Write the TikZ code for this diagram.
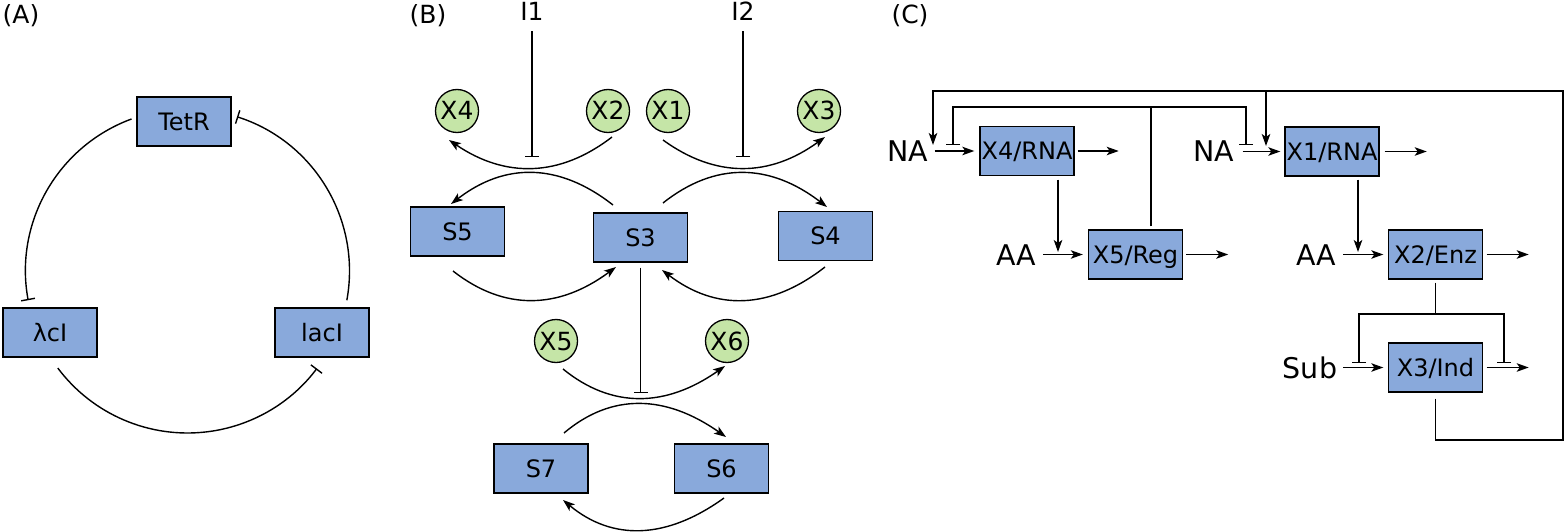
\documentclass[tikz,border=0pt]{standalone}
\usepackage{fontspec}
\setmainfont{DejaVu Sans}
\usetikzlibrary{arrows.meta,calc}
\definecolor{boxblue}{RGB}{137,169,219}
\definecolor{spgreen}{RGB}{197,229,167}
\begin{document}
\begin{tikzpicture}[x=1pt,y=-1pt,
  box/.style={draw=black, fill=boxblue, line width=1.4pt, minimum width=94pt, minimum height=49pt, inner sep=0pt, text height=17.5pt, text depth=0pt, font=\fontsize{24}{28}\selectfont},
  spec/.style={circle, draw=black, fill=spgreen, line width=1.3pt, minimum size=43pt, inner sep=0pt, text height=18pt, text depth=0pt, font=\fontsize{25}{28}\selectfont},
  lbl/.style={inner sep=0pt, text height=18pt, text depth=0pt, font=\fontsize{25}{30}\selectfont},
  big/.style={inner sep=0pt, text height=20.8pt, text depth=0pt, font=\fontsize{28.5}{32}\selectfont},
  conn/.style={line width=1.4pt},
  act/.style={conn, -{Stealth[length=12pt,width=8.5pt,inset=3pt]}},
  inh/.style={conn, -{Bar[width=14pt,line width=1.4pt]}},
]
\useasboundingbox (0,0) rectangle (1565,532);

% ---------------- Panel A ----------------
\node[lbl] (labA) at (21,15) {(A)};
\node[box] (TetR) at (184,121.5) {TetR};
\node[box] (lcI) at (50,332.5) {λcI};
\node[box] (lacI) at (322,332.5) {lacI};
\coordinate (cA) at (187.5,271);
\draw[inh] ([shift={(249.8:162)}]cA) arc[start angle=249.8, end angle=169.6, radius=162];
\draw[inh] ([shift={(10.4:162)}]cA) arc[start angle=10.4, end angle=-72.2, radius=162];
\draw[inh] ([shift={(143.2:162)}]cA) arc[start angle=143.2, end angle=37, radius=162];

% ---------------- Panel B ----------------
\node[lbl] (labB) at (428,15) {(B)};
\node[lbl] (I1) at (532,12) {I1};
\node[lbl] (I2) at (743,12) {I2};
\node[spec] (X4) at (457,111) {X4};
\node[spec] (X2) at (608,111) {X2};
\node[spec] (X1) at (668,111) {X1};
\node[spec] (X3) at (819,111) {X3};
\node[box] (S5) at (457.5,231.5) {S5};
\node[box] (S3) at (640.5,237.5) {S3};
\node[box] (S4) at (825.5,236) {S4};
\node[spec] (X5) at (556,341) {X5};
\node[spec] (X6) at (727,341) {X6};
\node[box] (S7) at (541,468.5) {S7};
\node[box] (S6) at (721.5,468.5) {S6};

\coordinate (i1e) at (532,157);
\coordinate (i2e) at (743,157);
\coordinate (s3e) at (640.5,393);
\draw[inh, shorten <=10pt] (I1) -- (i1e);
\draw[inh, shorten <=10pt] (I2) -- (i2e);
\draw[inh, shorten <=5pt] (S3.south) -- (s3e);

\draw[act] ([shift={(4,26)}]X2.center) .. controls (559.7,177.3) and (505.3,178.3) .. ([shift={(-8,29)}]X4.center);
\draw[act] ([shift={(-5,29)}]X1.center) .. controls (715.7,178.3) and (769.7,177.3) .. ([shift={(6,26)}]X3.center);
\draw[act] ([shift={(-27.5,-32.5)}]S3.center) .. controls (559,162.7) and (505,162.3) .. ([shift={(-6.5,-27.5)}]S5.center);
\draw[act] ([shift={(22.5,-34.5)}]S3.center) .. controls (715,161.7) and (769.7,163) .. ([shift={(1.5,-29)}]S4.center);
\draw[act] ([shift={(-4.5,39.5)}]S5.center) .. controls (504,311) and (558.3,309.7) .. ([shift={(-24.5,29.5)}]S3.center);
\draw[act] ([shift={(-0.5,31)}]S4.center) .. controls (770,310) and (715.7,311) .. ([shift={(21.5,32.5)}]S3.center);
\draw[act] ([shift={(7,28)}]X5.center) .. controls (611.7,408.7) and (665.7,407.7) .. ([shift={(-2,25)}]X6.center);
\draw[act] ([shift={(23,-35.5)}]S7.center) .. controls (611.3,393) and (665.3,394.3) .. ([shift={(4.5,-31.5)}]S6.center);
\draw[act] ([shift={(2.5,29.5)}]S6.center) .. controls (665.7,540) and (612,540.7) .. ([shift={(22,31.5)}]S7.center);

% ---------------- Panel C ----------------
\node[lbl] (labC) at (910,15) {(C)};
\node[big] (NA1) at (908,151) {NA};
\node[box] (X4R) at (1027,151) {X4/RNA};
\node[big] (AA1) at (1016,255) {AA};
\node[box] (X5R) at (1135.5,254.5) {X5/Reg};
\node[big] (NA2) at (1214,151) {NA};
\node[box] (X1R) at (1332,151.5) {X1/RNA};
\node[big] (AA2) at (1316,255) {AA};
\node[box] (X2E) at (1435.5,254.5) {X2/Enz};
\node[big] (Sub) at (1310,368) {Sub};
\node[box] (X3I) at (1435.5,367.5) {X3/Ind};

\draw[act, shorten <=6pt, shorten >=5pt] (NA1.east |- X4R.west) -- (X4R.west);
\draw[act, shorten <=3pt] (X4R.east) -- ++(44,0);
\draw[act, shorten <=3.5pt, shorten >=2.5pt] ([xshift=31pt]X4R.south) -- ([xshift=31pt]X4R.south |- X5R.west);
\draw[act, shorten <=7pt, shorten >=5pt] (AA1.east |- X5R.west) -- (X5R.west);
\draw[act, shorten <=3pt] (X5R.east) -- ++(45,0);

\draw[act, shorten <=8pt, shorten >=4pt] (NA2.east |- X1R.west) -- (X1R.west);
\draw[act, shorten <=5pt] (X1R.east) -- ++(47,0);
\draw[act, shorten <=3pt, shorten >=2.5pt] ([xshift=26pt]X1R.south) -- ([xshift=26pt]X1R.south |- X2E.west);
\draw[act, shorten <=7pt, shorten >=4.5pt] (AA2.east |- X2E.west) -- (X2E.west);
\draw[act, shorten <=3.5pt] (X2E.east) -- ++(45.5,0);
\draw[act, shorten <=6pt, shorten >=4.5pt] (Sub.east |- X3I.west) -- (X3I.west);
\draw[act, shorten <=3.5pt] (X3I.east) -- ++(45.5,0);

% X2/Enz inhibits Sub uptake and X3 output
\coordinate (j1) at (1435.5,314);
\coordinate (b1) at (1359,363);
\coordinate (b2) at (1504,363);
\draw[conn, shorten <=3pt] (X2E.south) -- (j1);
\draw[inh] (j1) -| (b1);
\draw[inh] (j1) -| (b2);

% X3/Ind feedback loop
\coordinate (fb1) at (1435.5,440);
\coordinate (fb2) at (1563,440);
\coordinate (fb3) at (1563,91);
\coordinate (fb4) at (933,91);
\coordinate (na1in) at (933,145);
\coordinate (fb5) at (1266,91);
\coordinate (na2in) at (1266,146);
\draw[act, shorten <=6pt] (X3I.south) -- (fb1) -- (fb2) -- (fb3) -- (fb4) -- (na1in);
\draw[act] (fb5) -- (na2in);

% X5/Reg inhibition
\coordinate (r1) at (1151,107);
\coordinate (r2) at (953,107);
\coordinate (r3) at (953,145);
\coordinate (r4) at (1246,107);
\coordinate (r5) at (1246,145);
\draw[inh, shorten <=3pt] ([xshift=15.5pt]X5R.north) -- (r1) -- (r2) -- (r3);
\draw[inh] (r1) -- (r4) -- (r5);
\end{tikzpicture}
\end{document}
